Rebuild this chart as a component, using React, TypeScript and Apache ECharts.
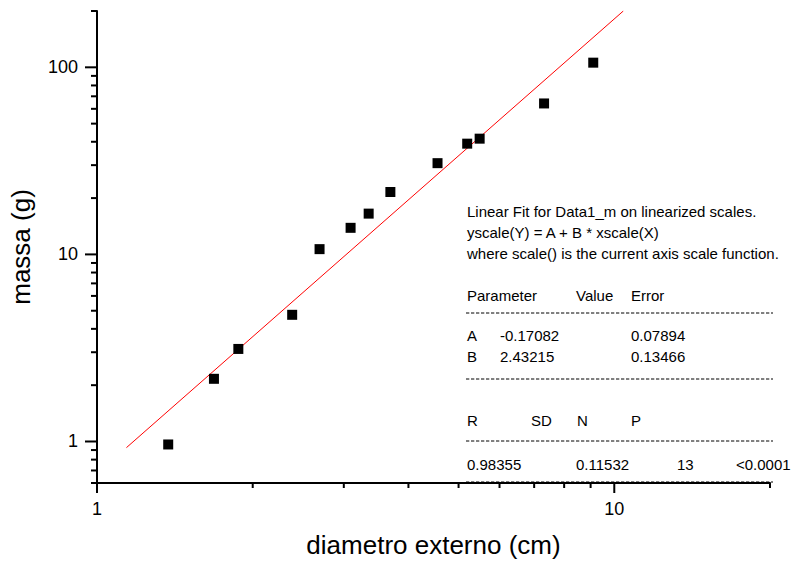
import React, { useEffect, useRef } from "react";
import * as echarts from "echarts";

// ---- data ----
const diametro = [1.373, 1.683, 1.876, 2.384, 2.693, 3.092, 3.351, 3.691, 4.553, 5.196, 5.492, 7.316, 9.106];
const massa = [0.964, 2.163, 3.124, 4.755, 10.67, 13.87, 16.52, 21.56, 30.74, 39.08, 41.56, 64.1, 105.9];

// linear fit (on log-log scales) end points
const fitX = [1.14, 10.41];
const fitY = [0.927, 200];

const X_MIN = 1;
const X_MAX = 20;
const Y_MIN = 0.6;
const Y_MAX = 200;

const xTickValues = [1, 2, 3, 4, 5, 6, 7, 8, 9, 10, 20];
const yTickValues = [0.6, 0.7, 0.8, 0.9, 1, 2, 3, 4, 5, 6, 7, 8, 9, 10, 20, 30, 40, 50, 60, 70, 80, 90, 100, 200];

const fitTitleLines = [
  "Linear Fit for Data1_m on linearized scales.",
  "yscale(Y) = A + B * xscale(X)",
  "where scale() is the current axis scale function.",
];
const paramHeader = ["Parameter", "Value", "Error"];
const paramRows = [
  ["A", "-0.17082", "0.07894"],
  ["B", "2.43215", "0.13466"],
];
const statHeader = ["R", "SD", "N", "P"];
const statValues = ["0.98355", "0.11532", "13", "<0.0001"];

const FONT = "'Liberation Sans', Arial, Helvetica, sans-serif";

function isPow10(v: number) {
  const l = Math.log10(v);
  return Math.abs(l - Math.round(l)) < 1e-6;
}

export default function App() {
  const ref = useRef<HTMLDivElement>(null);

  useEffect(() => {
    if (!ref.current) return;
    const chart = echarts.init(ref.current, undefined, { renderer: "svg" });

    const txt = (text: string, x: number, y: number) => ({
      type: "text",
      x,
      y,
      silent: true,
      style: { text, fill: "#000", fontSize: 15, fontFamily: FONT, align: "left", verticalAlign: "middle" },
    });
    const dash = (y: number) => ({
      type: "line",
      silent: true,
      shape: { x1: 466, y1: y, x2: 773, y2: y },
      style: { stroke: "#000", lineWidth: 1, lineDash: [3.3, 1.7] },
    });

    const graphics: any[] = [];
    fitTitleLines.forEach((t, i) => graphics.push(txt(t, 467, 211 + i * 21)));
    const pCols = [467, 576, 631];
    paramHeader.forEach((t, i) => graphics.push(txt(t, pCols[i], 295)));
    graphics.push(dash(313));
    const rCols = [467, 500, 631];
    paramRows.forEach((row, r) => row.forEach((t, i) => graphics.push(txt(t, rCols[i], 335 + r * 21))));
    graphics.push(dash(379));
    const sCols = [467, 531, 577, 631];
    statHeader.forEach((t, i) => graphics.push(txt(t, sCols[i], 420)));
    graphics.push(dash(441));
    const vCols = [467, 576, 677, 736];
    statValues.forEach((t, i) => graphics.push(txt(t, vCols[i], 464)));
    graphics.push(dash(482));

    chart.setOption({
      animation: false,
      backgroundColor: "#fff",
      grid: { left: 96, right: 23, top: 11, bottom: 77, containLabel: false },
      xAxis: {
        type: "log",
        logBase: 10,
        min: X_MIN,
        max: X_MAX,
        name: "diametro externo (cm)",
        nameLocation: "middle",
        nameGap: 49,
        nameTextStyle: { fontSize: 26, fontFamily: FONT, color: "#000" },
        axisLine: { show: true, lineStyle: { color: "#000", width: 2 } },
        axisTick: { show: false },
        minorTick: { show: false },
        splitLine: { show: false },
        axisLabel: {
          fontSize: 18,
          fontFamily: FONT,
          color: "#000",
          margin: 17,
          formatter: (v: number) => (isPow10(v) ? String(Math.round(v)) : ""),
        },
      },
      yAxis: {
        type: "log",
        logBase: 10,
        min: Y_MIN,
        max: Y_MAX,
        name: "massa (g)",
        nameLocation: "middle",
        nameGap: 63,
        nameTextStyle: { fontSize: 26, fontFamily: FONT, color: "#000" },
        axisLine: { show: true, lineStyle: { color: "#000", width: 2 } },
        axisTick: { show: false },
        minorTick: { show: false },
        splitLine: { show: false },
        axisLabel: {
          fontSize: 18,
          fontFamily: FONT,
          color: "#000",
          margin: 19,
          formatter: (v: number) => (isPow10(v) ? String(Math.round(v)) : ""),
        },
      },
      graphic: graphics,
      series: [
        {
          type: "line",
          data: fitX.map((x, i) => [x, fitY[i]]),
          showSymbol: false,
          symbol: "none",
          lineStyle: { color: "#ff0000", width: 1 },
          silent: true,
          z: 2,
        },
        {
          type: "scatter",
          data: diametro.map((x, i) => [x, massa[i]]),
          symbol: "rect",
          symbolSize: 10,
          itemStyle: { color: "#000", opacity: 1 },
          silent: true,
          z: 3,
        },
        {
          type: "custom",
          clip: false,
          silent: true,
          data: xTickValues.map((v) => [v, Y_MIN]),
          renderItem: (params: any, api: any) => {
            const v = api.value(0);
            const p = api.coord([v, Y_MIN]);
            const len = isPow10(v) ? 10 : 5;
            return {
              type: "line",
              shape: { x1: p[0], y1: p[1], x2: p[0], y2: p[1] + len },
              style: { stroke: "#000", lineWidth: 2 },
            };
          },
          z: 4,
        },
        {
          type: "custom",
          clip: false,
          silent: true,
          data: yTickValues.map((v) => [X_MIN, v]),
          renderItem: (params: any, api: any) => {
            const v = api.value(1);
            const p = api.coord([X_MIN, v]);
            const len = isPow10(v) ? 12 : 6;
            return {
              type: "line",
              shape: { x1: p[0] - len, y1: p[1], x2: p[0], y2: p[1] },
              style: { stroke: "#000", lineWidth: 2 },
            };
          },
          z: 4,
        },
      ],
    });

    return () => chart.dispose();
  }, []);

  return (
    <div
      ref={ref}
      style={{ position: "fixed", left: 0, top: 0, width: 793, height: 563, background: "#fff" }}
    />
  );
}
